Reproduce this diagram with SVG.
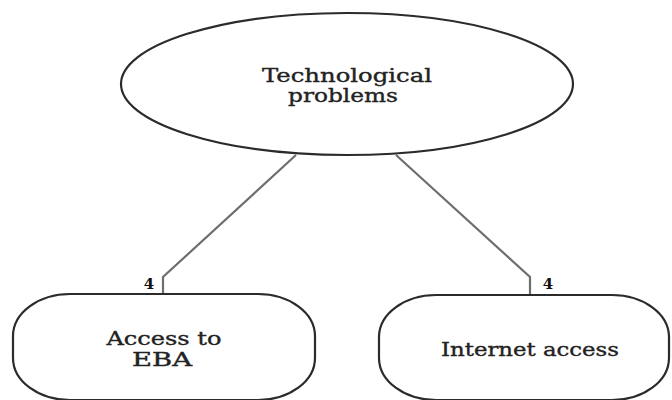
<svg xmlns="http://www.w3.org/2000/svg" width="672" height="400" viewBox="0 0 672 400">
  <style>
    .shape { fill: #ffffff; stroke: #2b2b2b; stroke-width: 2.2; }
    .conn { fill: none; stroke: #6e6e6e; stroke-width: 2.2; }
    .lbl { font-family: "DejaVu Serif", "Liberation Serif", serif; font-size: 18px; fill: #222; stroke: #222; stroke-width: 0.35; text-anchor: middle; }
    .num { font-family: "DejaVu Serif", "Liberation Serif", serif; font-size: 15px; font-weight: bold; fill: #111; text-anchor: middle; }
  </style>
  <rect width="672" height="400" fill="#ffffff"/>
  <g id="connectors">
    <polyline class="conn" points="296,155 163,277 163,295"/>
    <polyline class="conn" points="396,155 530,277 530,295"/>
    <text class="num" x="149" y="289">4</text>
    <text class="num" x="548" y="289">4</text>
  </g>
  <g id="node-technological">
    <ellipse class="shape" cx="347" cy="84" rx="226" ry="71"/>
    <text class="lbl" x="347" y="82" textLength="170" lengthAdjust="spacingAndGlyphs">Technological</text>
    <text class="lbl" x="343" y="102" textLength="110" lengthAdjust="spacingAndGlyphs">problems</text>
  </g>
  <g id="node-access-eba">
    <path class="shape" d="M70,294 H258 A57,42 0 0 1 315,336 V358 A57,42 0 0 1 258,400 H70 A57,42 0 0 1 13,358 V336 A57,42 0 0 1 70,294 Z"/>
    <text class="lbl" x="164" y="345" textLength="115" lengthAdjust="spacingAndGlyphs">Access to</text>
    <text class="lbl" x="162" y="366" textLength="60" lengthAdjust="spacingAndGlyphs">EBA</text>
  </g>
  <g id="node-internet-access">
    <path class="shape" d="M436,295 H612 A57,42 0 0 1 669,337 V358 A57,42 0 0 1 612,400 H436 A57,42 0 0 1 379,358 V337 A57,42 0 0 1 436,295 Z"/>
    <text class="lbl" x="530" y="356" textLength="178" lengthAdjust="spacingAndGlyphs">Internet access</text>
  </g>
</svg>
